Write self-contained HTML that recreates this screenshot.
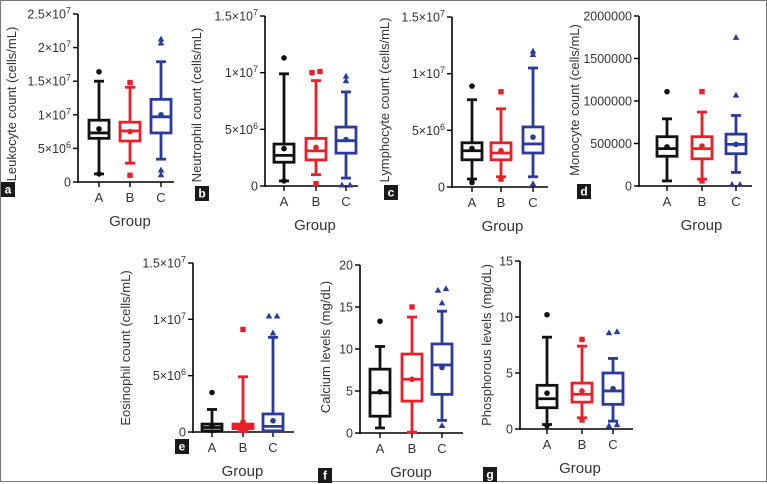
<!DOCTYPE html>
<html><head><meta charset="utf-8"><style>
html,body{margin:0;padding:0;background:#fff}
svg{display:block;font-family:"Liberation Sans",Arial,sans-serif}
</style></head><body>
<svg id="fig" width="767" height="484" viewBox="0 0 767 484" xmlns="http://www.w3.org/2000/svg">
<rect x="0.5" y="0.5" width="766" height="481" fill="none" stroke="#777" stroke-width="1"/>
</svg>
<script>
// ---- data (value arrays per panel; order: A, B, C) ----
const groups = ["A","B","C"];
// panel a: leukocyte
const aQ1=[6.5e6,6.1e6,7.3e6], aMed=[7.3e6,7.6e6,9.7e6], aQ3=[9.2e6,8.9e6,1.23e7], aLo=[1.2e6,2.8e6,3.4e6], aHi=[1.5e7,1.41e7,1.79e7], aMean=[7.9e6,7.5e6,1.0e7];
const aOut=[[1.64e7,1.2e6],[1.48e7,1.0e6],[2.13e7,2.07e7,1.8e6,1.1e6]];
const aTicks=[0,5e6,1e7,1.5e7,2e7,2.5e7], aTickLabels=["0","5×10^6","1×10^7","1.5×10^7","2×10^7","2.5×10^7"];
// panel b: neutrophil
const bQ1=[2.1e6,2.3e6,2.9e6], bMed=[2.7e6,3.1e6,4.0e6], bQ3=[3.7e6,4.2e6,5.2e6], bLo=[0.45e6,1.0e6,0.7e6], bHi=[9.9e6,9.3e6,8.3e6], bMean=[3.3e6,3.4e6,4.1e6];
const bOut=[[1.13e7,0.45e6],[1.0e7,1.01e7,0.2e6],[9.7e6,9.3e6,0.1e6,0.1e6]];
const bTicks=[0,5e6,1e7,1.5e7], bTickLabels=["0","5×10^6","1×10^7","1.5×10^7"];
// panel c: lymphocyte
const cQ1=[2.4e6,2.4e6,3.0e6], cMed=[3.2e6,3.0e6,3.8e6], cQ3=[3.9e6,3.9e6,5.3e6], cLo=[0.7e6,0.9e6,0.9e6], cHi=[7.7e6,6.9e6,1.05e7], cMean=[3.4e6,3.2e6,4.4e6];
const cOut=[[8.9e6,0.4e6],[8.4e6,0.7e6],[1.2e7,1.17e7,0.3e6]];
const cTicks=[0,5e6,1e7,1.5e7], cTickLabels=["0","5×10^6","1×10^7","1.5×10^7"];
// panel d: monocyte
const dQ1=[350000,320000,380000], dMed=[440000,440000,490000], dQ3=[580000,580000,610000], dLo=[60000,80000,160000], dHi=[790000,870000,830000], dMean=[460000,470000,490000];
const dOut=[[1110000],[1110000,60000],[1750000,1070000,20000,20000]];
const dTicks=[0,500000,1000000,1500000,2000000], dTickLabels=["0","500000","1000000","1500000","2000000"];
// panel e: eosinophil
const eQ1=[0.1e6,0.3e6,0.1e6], eMed=[0.4e6,0.5e6,0.5e6], eQ3=[0.7e6,0.7e6,1.6e6], eLo=[0.05e6,0.05e6,0.05e6], eHi=[2.0e6,4.9e6,8.4e6], eMean=[0.5e6,0.9e6,1.0e6];
const eOut=[[3.5e6],[9.1e6],[1.03e7,1.03e7,8.8e6]];
const eTicks=[0,5e6,1e7,1.5e7], eTickLabels=["0","5×10^6","1×10^7","1.5×10^7"];
// panel f: calcium
const fQ1=[2.0,3.8,4.6], fMed=[4.8,6.4,8.1], fQ3=[7.6,9.4,10.6], fLo=[0.6,0.1,1.5], fHi=[10.3,13.8,14.5], fMean=[4.9,6.4,7.8];
const fOut=[[13.3],[15.0],[17.0,17.2,15.5,0.9]];
const fTicks=[0,5,10,15,20], fTickLabels=["0","5","10","15","20"];
// panel g: phosphorous
const gQ1=[1.9,2.4,2.2], gMed=[2.7,3.1,3.4], gQ3=[3.9,4.1,5.0], gLo=[0.4,1.0,0.7], gHi=[8.2,7.4,6.3], gMean=[3.2,3.4,3.6];
const gOut=[[10.2,0.3],[8.0,0.8],[8.6,8.7,0.3,0.4]];
const gTicks=[0,5,10,15], gTickLabels=["0","5","10","15"];

const NS="http://www.w3.org/2000/svg";
const svg=document.getElementById('fig');
const colors=["#111","#e8202a","#2b3a9e"];
function mk(tag,attrs,parent){const e=document.createElementNS(NS,tag);for(const k in attrs)e.setAttribute(k,attrs[k]);(parent||svg).appendChild(e);return e;}

function panel(p){
  const g=mk('g',{});
  
  
  const max=p.ticks[p.ticks.length-1];
  const y=v=>p.y0-(v/max)*(p.y0-p.yTop);
  const x=i=>p.cx[i];
  const ya=mk('line',{x1:p.ax,y1:p.yTop,x2:p.ax,y2:p.y0+1,stroke:'#000','stroke-width':1.6},g);
  
  
  const xa=mk('line',{x1:p.ax,y1:p.y0,x2:p.xEnd,y2:p.y0,stroke:'#000','stroke-width':1.6},g);
  
  
  p.ticks.forEach((t,i)=>{
    mk('line',{x1:p.ax-5,y1:y(t),x2:p.ax,y2:y(t),stroke:'#000','stroke-width':1.4},g);
    const tx=mk('text',{x:p.ax-7,y:y(t)+4.5,'text-anchor':'end','font-size':12.5,fill:'#333'},g);
    
    
    const lab=p.tickLabels[i];
    if(lab.indexOf('^')>=0){
      const [b,e]=lab.split('^');
      const t1=mk('tspan',{},tx);t1.textContent=b;
      const t2=mk('tspan',{dy:-5,'font-size':9},tx);t2.textContent=e;
    } else tx.textContent=lab;
  });
  groups.forEach((gr,i)=>{
    mk('line',{x1:x(i),y1:p.y0,x2:x(i),y2:p.y0+5,stroke:'#000','stroke-width':1.4},g);
    const tl=mk('text',{x:x(i),y:p.y0+20,'text-anchor':'middle','font-size':13,fill:'#333'},g);
    
    
    tl.textContent=gr;
    const c=colors[i], bw=20, cw=10;
    const bg=mk('g',{stroke:c,'stroke-width':2.8,fill:'none'},g);
    
    
    mk('line',{x1:x(i),y1:y(p.hi[i]),x2:x(i),y2:y(p.q3[i])},bg);
    mk('line',{x1:x(i),y1:y(p.q1[i]),x2:x(i),y2:y(p.lo[i])},bg);
    mk('line',{x1:x(i)-cw/2,y1:y(p.hi[i]),x2:x(i)+cw/2,y2:y(p.hi[i])},bg);
    mk('line',{x1:x(i)-cw/2,y1:y(p.lo[i]),x2:x(i)+cw/2,y2:y(p.lo[i])},bg);
    mk('rect',{x:x(i)-bw/2,y:y(p.q3[i]),width:bw,height:Math.max(0.5,y(p.q1[i])-y(p.q3[i])),fill:'#fff'},bg);
    mk('line',{x1:x(i)-bw/2,y1:y(p.med[i]),x2:x(i)+bw/2,y2:y(p.med[i])},bg);
    const mm=mk('circle',{cx:x(i),cy:y(p.mean[i]),r:2.8,fill:c},g);
    
    
    const outs=p.out[i];
    outs.forEach((v,j)=>{
      const dup=outs.filter(w=>Math.abs(w-v)/max<0.01);
      const k=outs.slice(0,j).filter(w=>Math.abs(w-v)/max<0.01).length;
      const off=dup.length>1?(k===0?-4:4):0;
      const px=x(i)+off, py=y(v);
      let m;
      if(i===0) m=mk('circle',{cx:px,cy:py,r:2.8,fill:c},g);
      else if(i===1) m=mk('rect',{x:px-2.7,y:py-2.7,width:5.4,height:5.4,fill:c},g);
      else m=mk('path',{d:`M${px},${py-3.3}L${px+3.3},${py+2.6}L${px-3.3},${py+2.6}Z`,fill:c},g);
      
      
    });
  });
  const xt=mk('text',{x:(p.cx[0]+p.cx[2])/2,y:p.y0+44,'text-anchor':'middle','font-size':15,fill:'#333'},g);
  
  
  xt.textContent='Group';
  const yt=mk('text',{x:0,y:0,'text-anchor':'middle','font-size':13,fill:'#333',transform:`translate(${p.tx},${p.ty}) rotate(-90)`},g);
  
  
  yt.textContent=p.title;
  const lb=mk('g',{},g);
  
  
  mk('rect',{x:p.lx,y:p.ly,width:14,height:15,fill:'#1a1a1a'},lb);
  const lt=mk('text',{x:p.lx+7,y:p.ly+11.5,'text-anchor':'middle','font-size':12,'font-weight':'bold',fill:'#fff'},lb);
  lt.textContent=p.id;
}

panel({id:'a',ax:78,yTop:14,y0:182,xEnd:174,cx:[99,130,161],ticks:aTicks,tickLabels:aTickLabels,q1:aQ1,med:aMed,q3:aQ3,lo:aLo,hi:aHi,mean:aMean,out:aOut,title:'Leukocyte count (cells/mL)',tx:16,ty:104,lx:1,ly:182});
panel({id:'b',ax:265,yTop:16,y0:186,xEnd:358,cx:[284,316,346],ticks:bTicks,tickLabels:bTickLabels,q1:bQ1,med:bMed,q3:bQ3,lo:bLo,hi:bHi,mean:bMean,out:bOut,title:'Neutrophil count (cells/mL)',tx:201,ty:105,lx:195,ly:186});
panel({id:'c',ax:452,yTop:17,y0:187,xEnd:548,cx:[472,501,533],ticks:cTicks,tickLabels:cTickLabels,q1:cQ1,med:cMed,q3:cQ3,lo:cLo,hi:cHi,mean:cMean,out:cOut,title:'Lymphocyte count (cells/mL)',tx:389,ty:100,lx:384,ly:185});
panel({id:'d',ax:639,yTop:16,y0:186,xEnd:752,cx:[667,702,736],ticks:dTicks,tickLabels:dTickLabels,q1:dQ1,med:dMed,q3:dQ3,lo:dLo,hi:dHi,mean:dMean,out:dOut,title:'Monocyte count (cells/mL)',tx:579,ty:100,lx:577,ly:184});
panel({id:'e',ax:193,yTop:263,y0:432,xEnd:294,cx:[212,243,273],ticks:eTicks,tickLabels:eTickLabels,q1:eQ1,med:eMed,q3:eQ3,lo:eLo,hi:eHi,mean:eMean,out:eOut,title:'Eosinophil count (cells/mL)',tx:130,ty:348,lx:175,ly:439});
panel({id:'f',ax:360,yTop:265,y0:433,xEnd:463,cx:[380,412,442],ticks:fTicks,tickLabels:fTickLabels,q1:fQ1,med:fMed,q3:fQ3,lo:fLo,hi:fHi,mean:fMean,out:fOut,title:'Calcium levels (mg/dL)',tx:330,ty:347,lx:318,ly:468});
panel({id:'g',ax:520,yTop:261,y0:429,xEnd:633,cx:[547,582,613],ticks:gTicks,tickLabels:gTickLabels,q1:gQ1,med:gMed,q3:gQ3,lo:gLo,hi:gHi,mean:gMean,out:gOut,title:'Phosphorous levels (mg/dL)',tx:491,ty:345,lx:483,ly:467});
</script>
</body></html>
